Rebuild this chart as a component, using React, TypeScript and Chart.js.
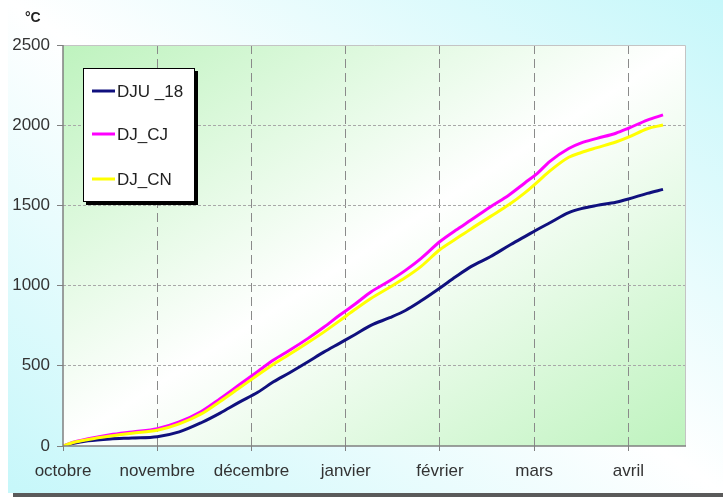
import React, { useEffect, useRef } from "react";
import { Chart, registerables } from "chart.js";

Chart.register(...registerables);

const MONTH_LABELS = ["octobre", "novembre", "décembre", "janvier", "février", "mars", "avril"];
const MONTH_TICKS = [0, 30, 60, 90, 120, 150, 180];
const Y_TICKS = [0, 500, 1000, 1500, 2000, 2500];

const DAYS = [0, 3, 8, 15, 22, 30, 37, 44, 50, 56, 62, 67, 72, 78, 83, 88, 93, 98, 104, 109, 114, 120, 125, 130, 136, 142, 147, 151, 155, 161, 165, 170, 176, 180, 186, 191];

const DJU_18 = [0, 15, 32, 44, 50, 58, 88, 145, 205, 272, 335, 400, 455, 525, 585, 640, 695, 752, 800, 845, 905, 985, 1055, 1120, 1180, 1250, 1305, 1350, 1392, 1455, 1480, 1500, 1520, 1540, 1575, 1600];

const DJ_CJ = [0, 22, 45, 70, 88, 108, 150, 215, 295, 380, 465, 536, 595, 671, 740, 815, 885, 960, 1030, 1095, 1170, 1275, 1345, 1410, 1490, 1565, 1640, 1700, 1775, 1855, 1890, 1918, 1950, 1981, 2032, 2064];

const DJ_CN = [0, 20, 40, 62, 80, 98, 138, 200, 278, 360, 442, 510, 570, 645, 710, 780, 852, 920, 990, 1050, 1120, 1225, 1290, 1355, 1430, 1505, 1578, 1645, 1715, 1800, 1830, 1860, 1895, 1925, 1978, 2001];

const FONT = "'Liberation Sans', Arial, Helvetica, sans-serif";

const plotBg = {
  id: "plotBg",
  beforeDraw(chart: any) {
    const { ctx, chartArea: a } = chart;
    const w = a.right - a.left;
    const h = a.bottom - a.top;
    const cx = (a.left + a.right) / 2;
    const cy = (a.top + a.bottom) / 2;
    const n = Math.sqrt(w * w + h * h);
    const half = (w * h) / n;
    const dx = h / n;
    const dy = w / n;
    const g = ctx.createLinearGradient(cx - dx * half, cy - dy * half, cx + dx * half, cy + dy * half);
    g.addColorStop(0, "rgb(190,243,190)");
    g.addColorStop(0.5, "#ffffff");
    g.addColorStop(1, "rgb(190,243,190)");
    ctx.save();
    ctx.fillStyle = g;
    ctx.fillRect(a.left, a.top, w, h);
    ctx.restore();
  },
};

const frameAndLegend = {
  id: "frameAndLegend",
  afterDraw(chart: any) {
    const { ctx, chartArea: a } = chart;
    ctx.save();
    ctx.setLineDash([]);
    // top / right frame
    ctx.strokeStyle = "#c4c4c4";
    ctx.lineWidth = 1;
    ctx.beginPath();
    ctx.moveTo(a.left, a.top + 0.5);
    ctx.lineTo(a.right + 0.5, a.top + 0.5);
    ctx.lineTo(a.right + 0.5, a.bottom);
    ctx.stroke();

    // axis lines (solid)
    ctx.strokeStyle = "#808080";
    ctx.lineWidth = 1.5;
    ctx.beginPath();
    ctx.moveTo(a.left, a.top);
    ctx.lineTo(a.left, a.bottom);
    ctx.lineTo(a.right + 1, a.bottom);
    ctx.stroke();

    // unit label
    ctx.fillStyle = "#222";
    ctx.font = `bold 14px ${FONT}`;
    ctx.textAlign = "left";
    ctx.textBaseline = "middle";
    ctx.fillText("°C", a.left - 38, a.top - 27);

    // legend box
    const bx = a.left + 20;
    const by = a.top + 23;
    const bw = 112;
    const bh = 134;
    ctx.fillStyle = "#000";
    ctx.fillRect(bx + 3, by + 3, bw, bh);
    ctx.fillStyle = "#fff";
    ctx.fillRect(bx, by, bw, bh);
    ctx.strokeStyle = "#000";
    ctx.lineWidth = 1;
    ctx.strokeRect(bx + 0.5, by + 0.5, bw - 1, bh - 1);

    const rows = [23, 66, 111];
    chart.data.datasets.forEach((ds: any, i: number) => {
      const y = by + rows[i];
      ctx.strokeStyle = ds.borderColor;
      ctx.lineWidth = 3;
      ctx.beginPath();
      ctx.moveTo(bx + 9, y);
      ctx.lineTo(bx + 32, y);
      ctx.stroke();
      ctx.fillStyle = "#222";
      ctx.font = `17px ${FONT}`;
      ctx.textAlign = "left";
      ctx.textBaseline = "middle";
      ctx.fillText(ds.label, bx + 34, y + 1);
    });
    ctx.restore();
  },
};

export default function App() {
  const ref = useRef<HTMLCanvasElement | null>(null);

  useEffect(() => {
    if (!ref.current) return;
    const toPts = (arr: number[]) => DAYS.map((d, i) => ({ x: d, y: arr[i] }));
    const chart = new Chart(ref.current, {
      type: "line",
      data: {
        datasets: [
          { label: "DJU _18", data: toPts(DJU_18), borderColor: "#10107e", borderWidth: 3, pointRadius: 0, cubicInterpolationMode: "monotone", order: 2 },
          { label: "DJ_CJ", data: toPts(DJ_CJ), borderColor: "#ff00ff", borderWidth: 3, pointRadius: 0, cubicInterpolationMode: "monotone", order: 1 },
          { label: "DJ_CN", data: toPts(DJ_CN), borderColor: "#ffff00", borderWidth: 3, pointRadius: 0, cubicInterpolationMode: "monotone", order: 0 },
        ],
      } as any,
      options: {
        animation: false,
        responsive: false,
        devicePixelRatio: 1,
        layout: { padding: { left: 0, top: 45, right: 38, bottom: 0 } },
        plugins: { legend: { display: false }, tooltip: { enabled: false } },
        scales: {
          x: {
            type: "linear",
            min: 0,
            max: 198,
            afterBuildTicks: (s: any) => {
              s.ticks = MONTH_TICKS.map((v) => ({ value: v }));
            },
            afterFit: (s: any) => {
              s.height = 47;
            },
            grid: {
              color: (c: any) => (c.tick && c.tick.value === 0 ? "rgba(0,0,0,0)" : "#8a8a8a"),
              lineWidth: 1,
              tickLength: 5,
              tickColor: "#808080",
              tickBorderDash: [],
            },
            border: { display: false, dash: [9, 5] },
            ticks: {
              callback: (_v: any, i: number) => MONTH_LABELS[i],
              font: { family: FONT, size: 17 },
              color: "#333",
              padding: 10,
              maxRotation: 0,
              autoSkip: false,
            },
          },
          y: {
            min: 0,
            max: 2500,
            afterBuildTicks: (s: any) => {
              s.ticks = Y_TICKS.map((v) => ({ value: v }));
            },
            afterFit: (s: any) => {
              s.width = 55;
            },
            grid: {
              color: (c: any) => (c.tick && (c.tick.value === 2500 || c.tick.value === 0) ? "rgba(0,0,0,0)" : "#a8a8a8"),
              lineWidth: 1,
              tickLength: 6,
              tickColor: "#808080",
              tickBorderDash: [],
            },
            border: { display: false, dash: [3, 2] },
            ticks: {
              callback: (v: any) => String(v),
              font: { family: FONT, size: 17 },
              color: "#333",
              padding: 7,
            },
          },
        },
      } as any,
      plugins: [plotBg, frameAndLegend],
    });
    return () => chart.destroy();
  }, []);

  return (
    <div style={{ position: "fixed", left: 0, top: 0, width: 723, height: 497, background: "#fff", overflow: "hidden" }}>
      <div style={{ position: "absolute", left: 13, top: 4, width: 712, height: 493, background: "#5a5a5a" }} />
      <div
        style={{
          position: "absolute",
          left: 8,
          top: 0,
          width: 715,
          height: 493,
          background: "linear-gradient(to top right, rgb(198,247,250) 0%, #ffffff 50%, rgb(198,247,250) 100%)",
        }}
      >
        <canvas ref={ref} width={715} height={493} style={{ position: "absolute", left: 0, top: 0, width: 715, height: 493 }} />
      </div>
    </div>
  );
}
